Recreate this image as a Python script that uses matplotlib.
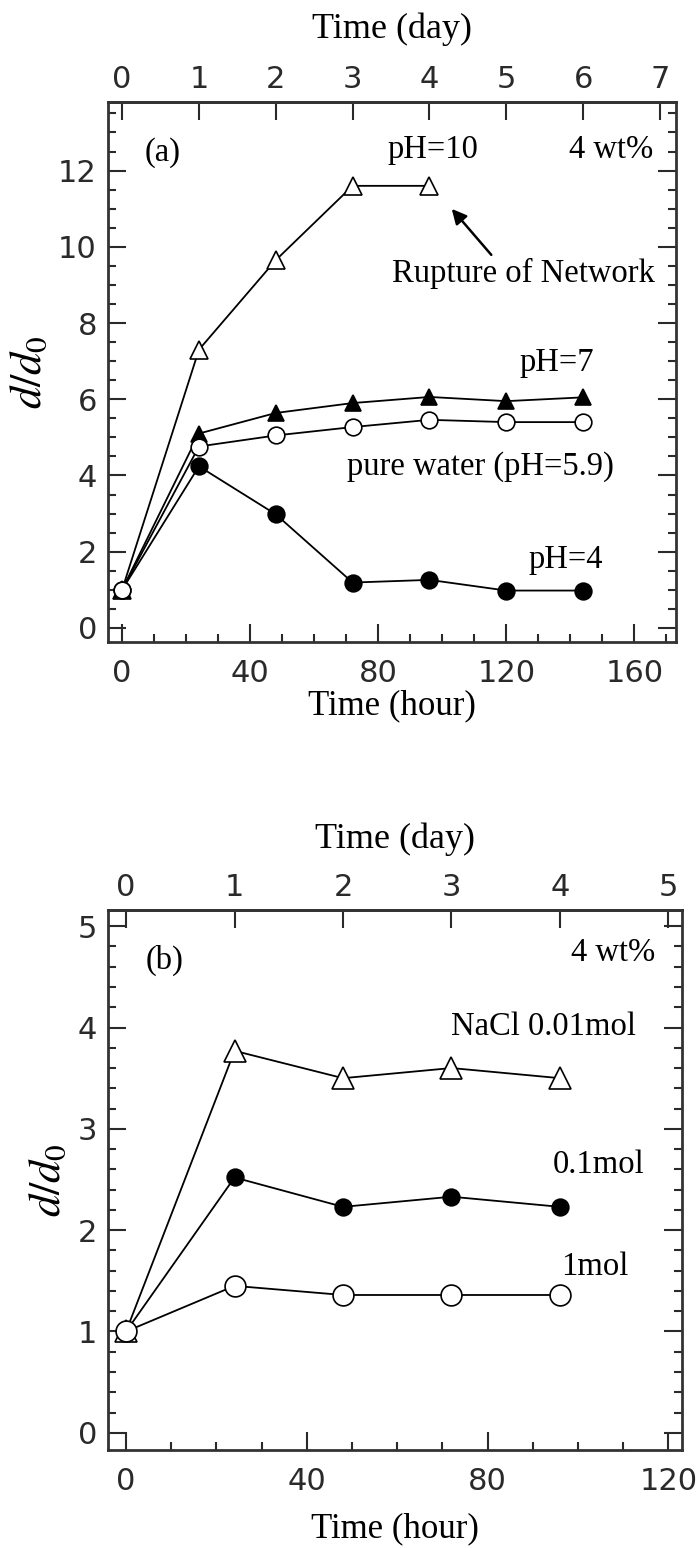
import matplotlib
matplotlib.use("Agg")
import matplotlib.pyplot as plt

# ---------------- data ----------------
hours_a = [0, 24, 48, 72, 96, 120, 144]
ph10_hours = [0, 24, 48, 72, 96]
ph10 = [1.0, 7.3, 9.65, 11.6, 11.6]
ph7 = [1.0, 5.1, 5.64, 5.9, 6.06, 5.95, 6.05]
pure_water = [1.0, 4.76, 5.05, 5.27, 5.46, 5.4, 5.4]
ph4 = [1.0, 4.24, 2.98, 1.19, 1.26, 0.98, 0.98]

hours_b = [0, 24, 48, 72, 96]
nacl_001 = [1.0, 3.77, 3.5, 3.6, 3.5]
nacl_01 = [1.0, 2.52, 2.23, 2.33, 2.23]
nacl_1 = [1.0, 1.45, 1.36, 1.36, 1.36]

day_ticks_a = [0, 1, 2, 3, 4, 5, 6, 7]
day_ticks_b = [0, 1, 2, 3, 4, 5]

SERIF = ["Liberation Serif", "DejaVu Serif"]
SANS = ["DejaVu Sans"]
plt.rcParams["font.family"] = SANS
plt.rcParams["mathtext.fontset"] = "stix"

fig = plt.figure(figsize=(7.0, 15.48), dpi=100)

SPINE_C = "#333333"
TICK_C = "#2a2a2a"


def style_axes(ax, xmaj, xmin, ymaj, ymin):
    for s in ax.spines.values():
        s.set_linewidth(2.0)
        s.set_color(SPINE_C)
    ax.set_xticks(xmaj)
    ax.set_xticks(xmin, minor=True)
    ax.set_yticks(ymaj)
    ax.set_yticks(ymin, minor=True)
    ax.tick_params(axis="both", which="major", direction="in", length=13,
                   width=1.5, color=TICK_C, labelsize=22, pad=12)
    ax.tick_params(axis="y", which="major", pad=8)
    ax.tick_params(axis="both", which="minor", direction="in", length=6,
                   width=1.5, color=TICK_C)
    ax.tick_params(axis="y", which="both", right=True, labelright=False)
    ax.tick_params(axis="x", which="both", top=False)
    for lab in ax.get_xticklabels() + ax.get_yticklabels():
        lab.set_family(SANS)
        lab.set_color(TICK_C)


def add_top(ax, dticks, labelpad):
    sec = ax.secondary_xaxis("top", functions=(lambda h: h / 24.0, lambda d: d * 24.0))
    sec.set_xticks(dticks)
    sec.tick_params(direction="in", length=13, width=1.5, color=TICK_C,
                    labelsize=22, pad=6)
    sec.spines["top"].set_linewidth(2.0)
    sec.spines["top"].set_color(SPINE_C)
    for lab in sec.get_xticklabels():
        lab.set_color(TICK_C)
    sec.set_xlabel("Time (day)", family=SERIF, fontsize=26, labelpad=labelpad)
    return sec


lw = 1.3
ew = 1.2

# ---------------- panel (a) ----------------
axa = fig.add_axes([108 / 700, 1 - 642 / 1548, (676 - 108) / 700, 540 / 1548])
axa.set_xlim(-4.4, 173)
axa.set_ylim(-0.37, 13.8)

axa.plot(ph10_hours, ph10, "-", color="black", lw=lw, marker="^", ms=13,
         mfc="white", mec="black", mew=ew, zorder=3)
axa.plot(hours_a, ph7, "-", color="black", lw=lw, marker="^", ms=12,
         mfc="black", mec="black", mew=ew, zorder=3)
axa.plot(hours_a, ph4, "-", color="black", lw=lw, marker="o", ms=12,
         mfc="black", mec="black", mew=ew, zorder=4)
axa.plot(hours_a, pure_water, "-", color="black", lw=lw, marker="o", ms=12,
         mfc="white", mec="black", mew=ew, zorder=5)

style_axes(axa, [0, 40, 80, 120, 160], list(range(0, 171, 10)),
           [0, 2, 4, 6, 8, 10, 12], [i * 0.5 for i in range(0, 28)])
add_top(axa, day_ticks_a, labelpad=19)
axa.set_xlabel("Time (hour)", family=SERIF, fontsize=25, labelpad=1)
axa.set_ylabel(r"$d/d_0$", fontsize=32, labelpad=6)

tk = dict(family=SERIF, fontsize=23.5, transform=axa.transAxes, va="center")
axa.text(0.097, 0.906, "(a)", ha="center", **tk)
axa.text(0.572, 0.911, "pH=10", ha="center", **tk)
axa.text(0.960, 0.911, "4 wt%", ha="right", **tk)
axa.text(0.731, 0.683, "Rupture of Network", ha="center", **tk)
axa.text(0.790, 0.517, "pH=7", ha="center", **tk)
axa.text(0.655, 0.324, "pure water (pH=5.9)", ha="center", **tk)
axa.text(0.806, 0.152, "pH=4", ha="center", **tk)
axa.annotate("", xy=(0.602, 0.806), xytext=(0.678, 0.713),
             xycoords="axes fraction", textcoords="axes fraction",
             arrowprops=dict(arrowstyle="-|>", color="black", lw=1.8,
                             mutation_scale=22))

# ---------------- panel (b) ----------------
axb = fig.add_axes([108 / 700, 1 - 1450 / 1548, (682 - 108) / 700, 540 / 1548])
axb.set_xlim(-4.0, 123)
axb.set_ylim(-0.17, 5.16)

axb.plot(hours_b, nacl_001, "-", color="black", lw=lw, marker="^", ms=16,
         mfc="white", mec="black", mew=ew, zorder=3)
axb.plot(hours_b, nacl_01, "-", color="black", lw=lw, marker="o", ms=12,
         mfc="black", mec="black", mew=ew, zorder=4)
axb.plot(hours_b, nacl_1, "-", color="black", lw=lw, marker="o", ms=15,
         mfc="white", mec="black", mew=ew, zorder=5)

style_axes(axb, [0, 40, 80, 120], list(range(0, 121, 10)),
           [0, 1, 2, 3, 4, 5], [i * 0.2 for i in range(0, 26)])
add_top(axb, day_ticks_b, labelpad=18)
axb.set_xlabel("Time (hour)", family=SERIF, fontsize=25, labelpad=12)
axb.set_ylabel(r"$d/d_0$", fontsize=32, labelpad=6)

tkb = dict(family=SERIF, fontsize=23.5, transform=axb.transAxes, va="center")
axb.text(0.098, 0.907, "(b)", ha="center", **tkb)
axb.text(0.953, 0.921, "4 wt%", ha="right", **tkb)
axb.text(0.758, 0.783, "NaCl 0.01mol", ha="center", **tkb)
axb.text(0.855, 0.528, "0.1mol", ha="center", **tkb)
axb.text(0.848, 0.339, "1mol", ha="center", **tkb)

fig.savefig("out.png", dpi=100, facecolor="white")
